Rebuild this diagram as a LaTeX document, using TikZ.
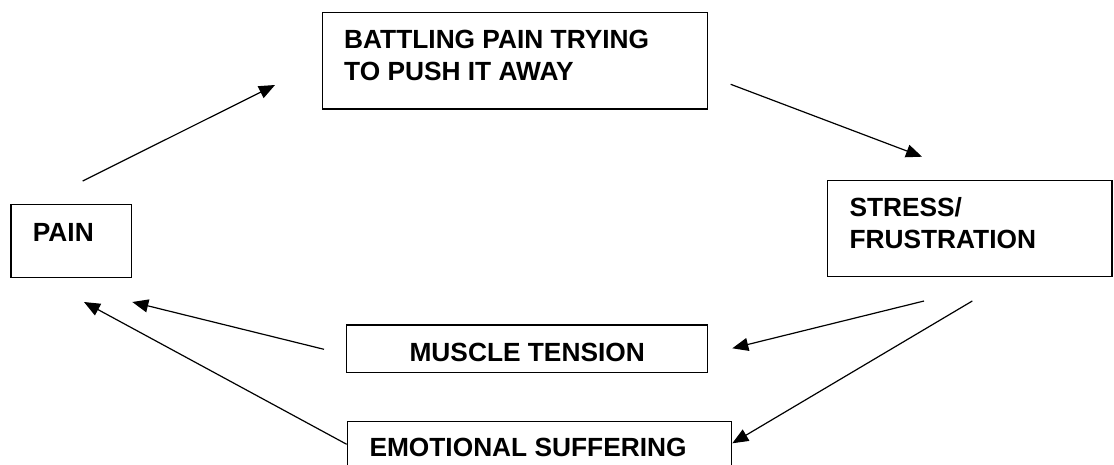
\documentclass[tikz,border=0pt]{standalone}
\usepackage{fontspec}
\setmainfont{Liberation Sans}
\usetikzlibrary{arrows.meta}
\begin{document}
\begin{tikzpicture}[x=1pt,y=1pt,
  box/.style={draw=black,line width=1.5pt,inner sep=0pt},
  lbl/.style={inner sep=0pt,font=\fontsize{26.3}{31.7}\selectfont\bfseries,align=left},
  arr/.style={line width=1.2pt,-{Triangle[length=16pt,width=13pt]}}]
\useasboundingbox (0,0) rectangle (1114,-464);
% boxes
\draw[box] (322.7,-12.7) rectangle (707.3,-109);
\draw[box] (11,-204.3) rectangle (131.3,-277.3);
\draw[box] (827.3,-180.7) rectangle (1112,-276.7);
\draw[box] (346.7,-325) rectangle (707.7,-372.7);
\draw[box] (347.3,-421.7) rectangle (731.7,-470);
% labels (base anchor = last line)
\node[lbl,anchor=base west] (battle) at (344,-80) {BATTLING PAIN TRYING\\TO PUSH IT AWAY};
\node[lbl,anchor=base west] (pain) at (32.7,-241) {PAIN};
\node[lbl,anchor=base west] (stress) at (849.3,-248.3) {STRESS/\\FRUSTRATION};
\node[lbl,anchor=base] (muscle) at (527.2,-361) {MUSCLE TENSION};
\node[lbl,anchor=base west] (emo) at (369.3,-456.7) {EMOTIONAL SUFFERING};
% connector ends
\coordinate (a1s) at (82.7,-181);   \coordinate (a1e) at (275,-85);
\coordinate (a2s) at (730.7,-84.3); \coordinate (a2e) at (922,-156.7);
\coordinate (a3s) at (924,-301);    \coordinate (a3e) at (732.3,-348.3);
\coordinate (a4s) at (972.3,-301);  \coordinate (a4e) at (732.3,-443.3);
\coordinate (a5s) at (324,-349.3);  \coordinate (a5e) at (132.3,-302);
\coordinate (a6s) at (346.7,-444.3);\coordinate (a6e) at (84,-302);
\draw[arr] (a1s) -- (a1e);
\draw[arr] (a2s) -- (a2e);
\draw[arr] (a3s) -- (a3e);
\draw[arr] (a4s) -- (a4e);
\draw[arr] (a5s) -- (a5e);
\draw[arr] (a6s) -- (a6e);
\end{tikzpicture}
\end{document}
